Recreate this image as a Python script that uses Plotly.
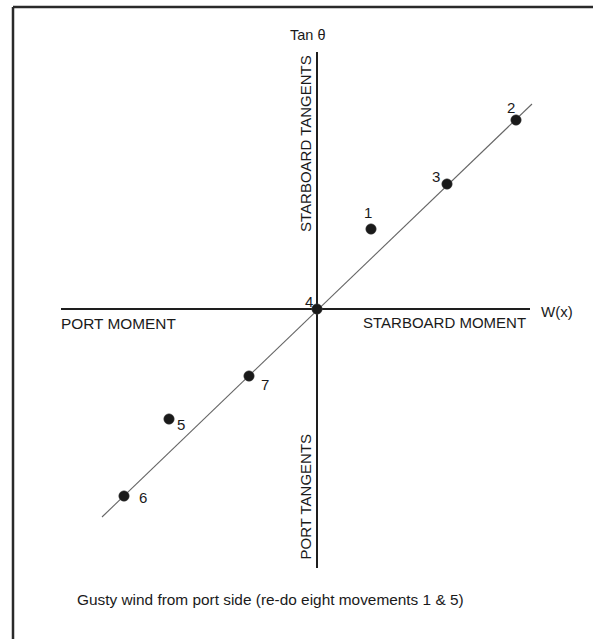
import plotly.graph_objects as go

# Data (arbitrary moment / tangent units, origin at point 4)
point_labels = ["1", "2", "3", "4", "5", "6", "7"]
moment_w = [0.54, 1.99, 1.30, 0.0, -1.48, -1.93, -0.68]
tangent = [0.80, 1.89, 1.25, 0.0, -1.10, -1.87, -0.67]

fit_x = [-2.15, 2.15]
fit_y = [-2.08, 2.05]

x_axis_extent = [-2.56, 2.13]
y_axis_extent = [-2.59, 2.57]

caption = "Gusty wind from port side (re-do eight movements 1 & 5)"

FONT = "Liberation Sans, Arial, sans-serif"
TXT = "#1a1a1a"

fig = go.Figure()

# axes
fig.add_trace(go.Scatter(x=x_axis_extent, y=[0, 0], mode="lines",
                         line=dict(color="#1e1e1e", width=2), hoverinfo="skip", showlegend=False))
fig.add_trace(go.Scatter(x=[0, 0], y=y_axis_extent, mode="lines",
                         line=dict(color="#1e1e1e", width=2), hoverinfo="skip", showlegend=False))
# fitted line
fig.add_trace(go.Scatter(x=fit_x, y=fit_y, mode="lines",
                         line=dict(color="#666666", width=1.1), hoverinfo="skip", showlegend=False))
# points
fig.add_trace(go.Scatter(x=moment_w, y=tangent, mode="markers",
                         marker=dict(size=10.5, color="#1a1a1a", line=dict(color="#444", width=0.5)),
                         hoverinfo="skip", showlegend=False))

# point label offsets in pixels (dx, dy with y up)
offsets = {"1": (-3, 17), "2": (-5, 13), "3": (-11, 8), "4": (-8, 8),
           "5": (12, -5), "6": (19, -1), "7": (16, -8)}
for lab, xv, yv in zip(point_labels, moment_w, tangent):
    dx, dy = offsets[lab]
    fig.add_annotation(x=xv, y=yv, text=lab, showarrow=False, xshift=dx, yshift=dy,
                       font=dict(family=FONT, size=15, color=TXT))

def txt(x, y, s, angle=0, xanchor="center", size=15):
    fig.add_annotation(x=x, y=y, text=s, showarrow=False, textangle=angle, xanchor=xanchor,
                       font=dict(family=FONT, size=size, color=TXT))

txt(-0.10, 2.74, "Tan θ", size=14.5)
txt(-0.12, 1.65, "STARBOARD TANGENTS", angle=-90)
txt(-0.12, -1.875, "PORT TANGENTS", angle=-90)
txt(-1.985, -0.14, "PORT MOMENT", size=15.4)
txt(1.27, -0.13, "STARBOARD MOMENT")
txt(2.40, -0.02, "W(x)")
txt(-2.42, -2.90, caption, xanchor="left", size=15.4)

# partial frame (left and top edges)
fig.add_shape(type="line", xref="paper", yref="paper", x0=13/593, x1=13/593, y0=0, y1=1-7/639,
              line=dict(color="#2a2a2a", width=2.5))
fig.add_shape(type="line", xref="paper", yref="paper", x0=13/593, x1=1, y0=1-7/639, y1=1-7/639,
              line=dict(color="#2a2a2a", width=2.5))

fig.update_layout(
    width=593, height=639,
    margin=dict(l=0, r=0, t=0, b=0),
    paper_bgcolor="white", plot_bgcolor="white",
    xaxis=dict(range=[-3.17, 2.76], visible=False, fixedrange=True),
    yaxis=dict(range=[-3.30, 3.09], visible=False, fixedrange=True),
    showlegend=False,
    hovermode=False,
)

fig.write_html("out.html", config={"displayModeBar": False},
               post_script="document.body.style.margin='0';document.body.style.overflow='hidden';")
